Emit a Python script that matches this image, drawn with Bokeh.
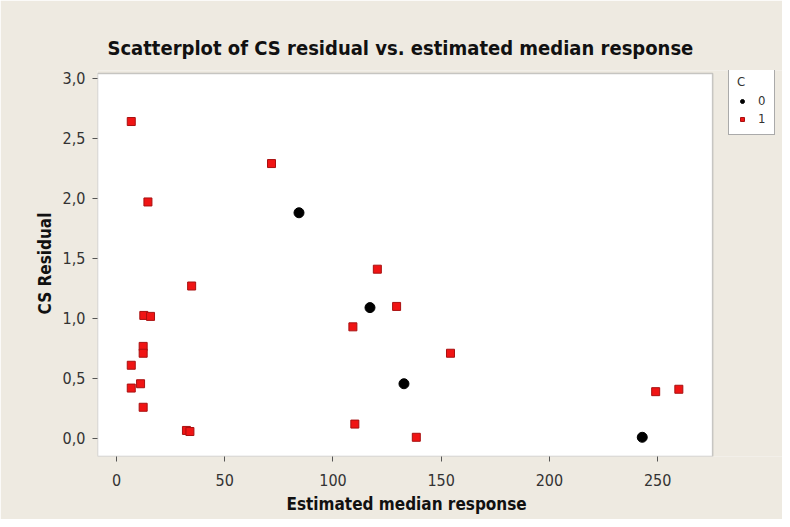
from bokeh.plotting import figure
from bokeh.models import Range1d, Legend, LegendItem, FixedTicker, BoxAnnotation, Title
from bokeh.embed import file_html
from bokeh.resources import INLINE

# ---- data ----
red_x = [6.8, 71.6, 14.5, 34.7, 12.6, 15.7, 12.3, 12.3, 6.8, 11.1, 6.8, 12.3,
         32.3, 33.9, 109.2, 120.5, 129.4, 110.1, 154.3, 138.5, 249.1, 259.8]
red_y = [2.64, 2.29, 1.97, 1.27, 1.025, 1.017, 0.767, 0.71, 0.61, 0.456, 0.42, 0.26,
         0.067, 0.058, 0.93, 1.41, 1.10, 0.12, 0.71, 0.01, 0.39, 0.41]
black_x = [84.3, 117.1, 132.8, 242.9]
black_y = [1.88, 1.09, 0.456, 0.01]

x_ticks = [0, 50, 100, 150, 200, 250]
x_tick_labels = ["0", "50", "100", "150", "200", "250"]
y_ticks = [0.0, 0.5, 1.0, 1.5, 2.0, 2.5, 3.0]
y_tick_labels = ["0,0", "0,5", "1,0", "1,5", "2,0", "2,5", "3,0"]
group_labels = ["0", "1"]
legend_title = "C"

# data-area limits of the plotted box
X_LO, X_HI = -8.8, 275.4
Y_LO, Y_HI = -0.15, 3.04

FONT = "DejaVu Sans Condensed"
BG = "#EEEAE1"

RED = dict(marker="square", size=8, fill_color="#F01414", line_color="#A81010", line_width=1)
BLK = dict(marker="circle", size=10, fill_color="black", line_color="black")

# frame extends to the right edge so the legend can live inside it
p = figure(width=782, height=519, output_backend="svg", toolbar_location=None,
           x_range=Range1d(X_LO, 307.7), y_range=Range1d(Y_LO, 3.065),
           min_border_left=97, min_border_top=70, min_border_right=0, min_border_bottom=63,
           background_fill_color=BG, border_fill_color=BG)
p.outline_line_color = None
p.grid.visible = False

box = BoxAnnotation(left=X_LO, right=X_HI, bottom=Y_LO, top=Y_HI,
                    fill_color="white", fill_alpha=1,
                    line_color="#555555", line_width=1.5, level="underlay")
p.add_layout(box)

p.title.text = "Scatterplot of CS residual vs. estimated median response"
p.title.align = "left"
p.title.offset = 10
p.title.text_font = FONT
p.title.text_font_size = "20px"
p.title.text_font_style = "bold"
p.title.text_color = "#111111"
p.title.standoff = 21

p.xaxis.ticker = FixedTicker(ticks=x_ticks)
p.xaxis.major_label_overrides = dict(zip(x_ticks, x_tick_labels))
p.yaxis.ticker = FixedTicker(ticks=y_ticks)
p.yaxis.major_label_overrides = dict(zip(y_ticks, y_tick_labels))

for ax in (p.xaxis, p.yaxis):
    ax.axis_line_color = None
    ax.major_tick_line_color = "#555555"
    ax.major_tick_in = 0
    ax.major_tick_out = 5
    ax.minor_tick_line_color = None
    ax.major_label_text_font = FONT
    ax.major_label_text_font_size = "16px"
    ax.major_label_text_color = "#333333"
    ax.axis_label_text_font = FONT
    ax.axis_label_text_font_size = "17px"
    ax.axis_label_text_font_style = "bold"
    ax.axis_label_text_color = "#111111"

p.yaxis.axis_label = "CS Residual"
p.xaxis.major_label_standoff = 12
p.yaxis.major_label_standoff = 7
p.yaxis.axis_label_standoff = 5

# x-axis title, centred under the plotted box rather than the wider frame
xlab = Title(text="Estimated median response", align="left", offset=189,
             text_font=FONT, text_font_size="17px", text_font_style="bold",
             text_color="#111111", standoff=6)
p.add_layout(xlab, "below")

r1 = p.scatter(red_x, red_y, **RED)
r0 = p.scatter(black_x, black_y, **BLK)

legend = Legend(items=[LegendItem(label=group_labels[0], renderers=[r0]),
                       LegendItem(label=group_labels[1], renderers=[r1])],
                location=(631, 321), title=legend_title,
                title_text_font=FONT, title_text_font_size="13px",
                title_text_font_style="normal", title_text_color="#333333",
                label_text_font=FONT, label_text_font_size="13px",
                label_text_color="#333333",
                glyph_width=10, glyph_height=12, label_height=12, label_width=8,
                label_standoff=11, spacing=3, padding=8, margin=0,
                title_standoff=4,
                border_line_color="#555555", border_line_width=1.5,
                background_fill_color="white", background_fill_alpha=1)
p.add_layout(legend, "center")

open("out.html", "w").write(file_html(p, INLINE))
